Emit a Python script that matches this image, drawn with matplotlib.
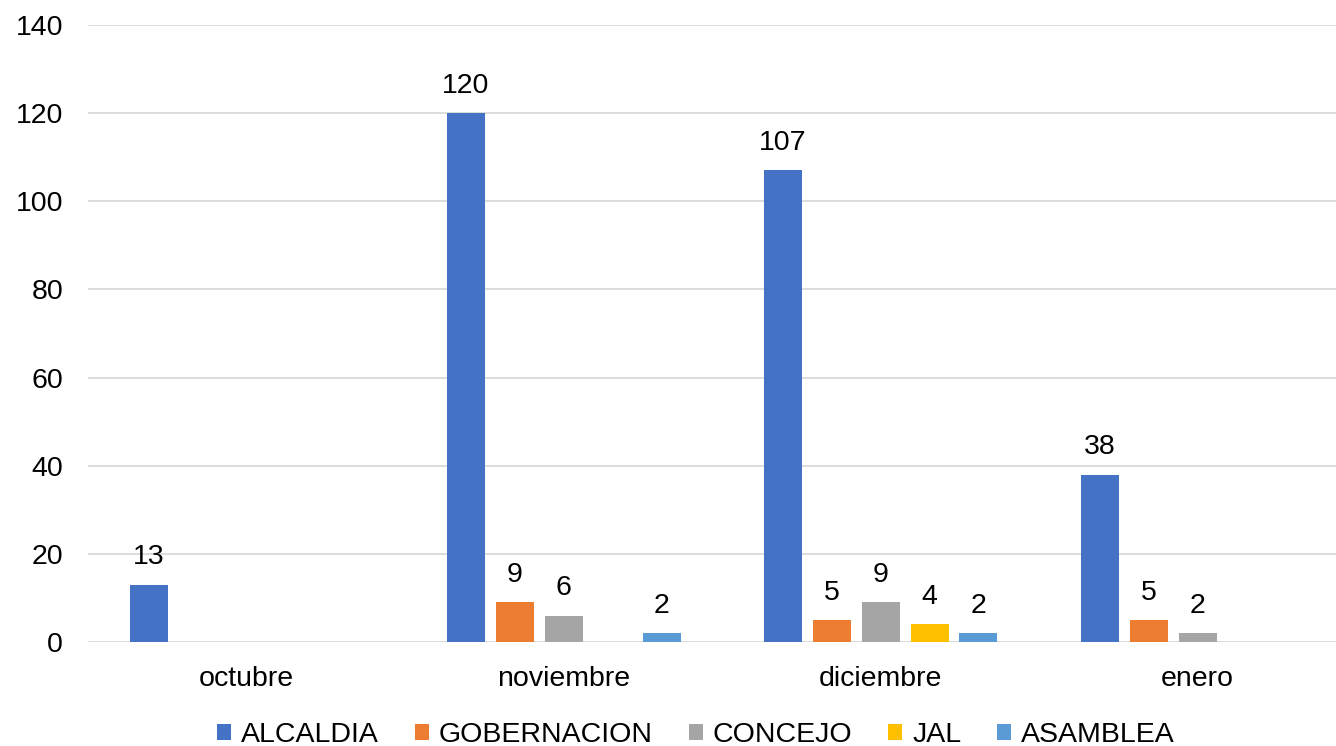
import matplotlib
matplotlib.use("Agg")
import matplotlib.pyplot as plt
import numpy as np

months = ["octubre", "noviembre", "diciembre", "enero"]
series = ["ALCALDIA", "GOBERNACION", "CONCEJO", "JAL", "ASAMBLEA"]
alcaldia = [13, 120, 107, 38]
gobernacion = [0, 9, 5, 5]
concejo = [0, 6, 9, 2]
jal = [0, 0, 4, 0]
asamblea = [0, 2, 2, 0]
yticks = [0, 20, 40, 60, 80, 100, 120, 140]

COLORS = ["#4472C4", "#ED7D31", "#A5A5A5", "#FFC000", "#5B9BD5"]
plt.rcParams["font.family"] = ["Liberation Sans", "DejaVu Sans"]
FS = 20.5

fig = plt.figure(figsize=(13.36, 7.46), dpi=100)
ax = fig.add_axes([88 / 1336, 104 / 746, 1248 / 1336, 617 / 746])

x = np.arange(len(months))
step = 49 / 317
width = 38 / 317
for i, (name, vals) in enumerate(zip(series, [alcaldia, gobernacion, concejo, jal, asamblea])):
    pos = x + (i - 2) * step
    bars = ax.bar(pos, vals, width, color=COLORS[i], label=name, zorder=3)
    for b, v in zip(bars, vals):
        if v:
            ax.text(b.get_x() + b.get_width() / 2, v + 4.6, str(v),
                    ha="center", va="baseline", fontsize=FS)

ax.set_xlim(-0.5, 3.5 - 20 / 317)
ax.set_ylim(0, 140)
ax.set_yticks(yticks)
ax.set_xticks(x)
ax.set_xticklabels(months)
ax.tick_params(axis="both", length=0, labelsize=FS)
ax.tick_params(axis="x", pad=17)
ax.tick_params(axis="y", pad=18)
ax.grid(axis="y", color="#D9D9D9", lw=1.3, zorder=0)
for s in ax.spines.values():
    s.set_visible(False)

fig.legend(loc="center", bbox_to_anchor=(0.521, 1 - 735 / 746), ncol=5, frameon=False,
           fontsize=FS, handlelength=0.5, handleheight=0.5, handletextpad=0.35,
           columnspacing=1.25, borderpad=0)

fig.savefig("out.png", dpi=100)
